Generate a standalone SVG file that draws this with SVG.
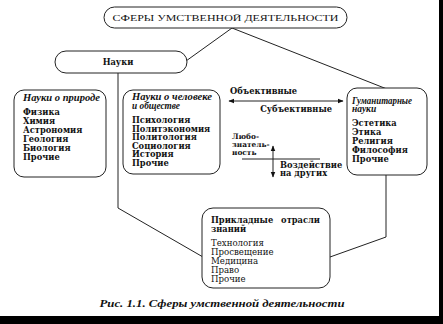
<svg xmlns="http://www.w3.org/2000/svg" width="443" height="324" viewBox="0 0 443 324">
<style>
.box{fill:#fff;stroke:#222;stroke-width:1}
.ln{fill:none;stroke:#222;stroke-width:1}
text{font-family:"DejaVu Serif","Liberation Serif",serif;font-size:8.3px;fill:#111}
.b{font-weight:bold}
.i{font-family:"Liberation Serif","DejaVu Serif",serif;font-style:italic;font-weight:bold;font-size:9.5px}
.r{font-size:8.6px}
.s{font-size:7.4px}
.lt{font-family:"Liberation Serif","DejaVu Serif",serif}
.cap{font-style:italic;font-weight:bold;font-size:11px}
</style>
<defs>
<marker id="ah" viewBox="0 0 10 10" refX="9" refY="5" markerWidth="6" markerHeight="6" orient="auto-start-reverse">
<path d="M0,1 L10,5 L0,9 z" fill="#111"/>
</marker>
</defs>
<rect width="443" height="324" fill="#fff"/>
<rect x="439" y="0" width="4" height="324" fill="#000"/>
<rect x="0" y="316" width="443" height="8" fill="#000"/>
<g id="connectors">
<line class="ln" x1="232" y1="28" x2="186" y2="61"/>
<line class="ln" x1="232" y1="28" x2="392" y2="91"/>
<polyline class="ln" points="118,73 118,208 203,257"/>
<polyline class="ln" points="386,175 386,237 330,257"/>
<line class="ln" x1="229" y1="101" x2="343" y2="101" marker-start="url(#ah)" marker-end="url(#ah)"/>
<line class="ln" x1="242" y1="159" x2="320" y2="159"/>
<line class="ln" x1="273" y1="146" x2="273" y2="177" marker-start="url(#ah)" marker-end="url(#ah)"/>
</g>
<g id="title">
<rect class="box" x="104" y="7" width="243" height="21" rx="10.5"/>
<text class="lt" x="225.5" y="21" text-anchor="middle" font-size="9.5" textLength="226" lengthAdjust="spacingAndGlyphs">СФЕРЫ УМСТВЕННОЙ ДЕЯТЕЛЬНОСТИ</text>
</g>
<g id="nauki">
<rect class="box" x="55" y="51" width="132" height="22" rx="11"/>
<text class="b" x="118" y="65" text-anchor="middle">Науки</text>
</g>
<g id="priroda">
<rect class="box" x="14" y="90" width="92" height="87" rx="10"/>
<text class="i" x="23" y="101" textLength="77" lengthAdjust="spacingAndGlyphs">Науки о природе</text>
<text class="b" x="23" y="115">Физика</text>
<text class="b" x="23" y="124">Химия</text>
<text class="b" x="23" y="133">Астрономия</text>
<text class="b" x="23" y="142">Геология</text>
<text class="b" x="23" y="151">Биология</text>
<text class="b" x="23" y="160">Прочие</text>
</g>
<g id="chelovek">
<rect class="box" x="123" y="90" width="97" height="84" rx="10"/>
<text class="i" x="132" y="100" textLength="80" lengthAdjust="spacingAndGlyphs">Науки о человеке</text>
<text class="i" x="132" y="108.5" textLength="48" lengthAdjust="spacingAndGlyphs">и обществе</text>
<text class="b" x="132" y="123">Психология</text>
<text class="b" x="132" y="131.5">Политэкономия</text>
<text class="b" x="132" y="140">Политология</text>
<text class="b" x="132" y="148.5">Социология</text>
<text class="b" x="132" y="157">История</text>
<text class="b" x="132" y="165.5">Прочие</text>
</g>
<g id="labels">
<text class="b" x="230" y="94">Объективные</text>
<text class="b" x="332" y="112" text-anchor="end">Субъективные</text>
<text class="b s" x="232" y="138.5">Любо-</text>
<text class="b s" x="232" y="146.5">знатель-</text>
<text class="b s" x="232" y="154.5">ность</text>
<text class="b" x="280" y="167.5">Воздействие</text>
<text class="b" x="280" y="176">на других</text>
</g>
<g id="gumanitar">
<rect class="box" x="347" y="88" width="80" height="87" rx="10"/>
<text class="i" x="352" y="103.5" textLength="60" lengthAdjust="spacingAndGlyphs">Гуманитарные</text>
<text class="i" x="352" y="112">науки</text>
<text class="b" x="352" y="126">Эстетика</text>
<text class="b" x="352" y="135">Этика</text>
<text class="b" x="352" y="144">Религия</text>
<text class="b" x="352" y="153">Философия</text>
<text class="b" x="352" y="162">Прочие</text>
</g>
<g id="prikladnye">
<rect class="box" x="202" y="208" width="128" height="80" rx="11"/>
<text class="b" x="211" y="223" word-spacing="5">Прикладные отрасли</text>
<text class="b" x="211" y="232">знаний</text>
<text class="r" x="211" y="246">Технология</text>
<text class="r" x="211" y="255">Просвещение</text>
<text class="r" x="211" y="264">Медицина</text>
<text class="r" x="211" y="273">Право</text>
<text class="r" x="211" y="282">Прочие</text>
</g>
<text class="cap lt" x="222" y="307" text-anchor="middle" textLength="245" lengthAdjust="spacingAndGlyphs">Рис. 1.1. Сферы умственной деятельности</text>
</svg>
